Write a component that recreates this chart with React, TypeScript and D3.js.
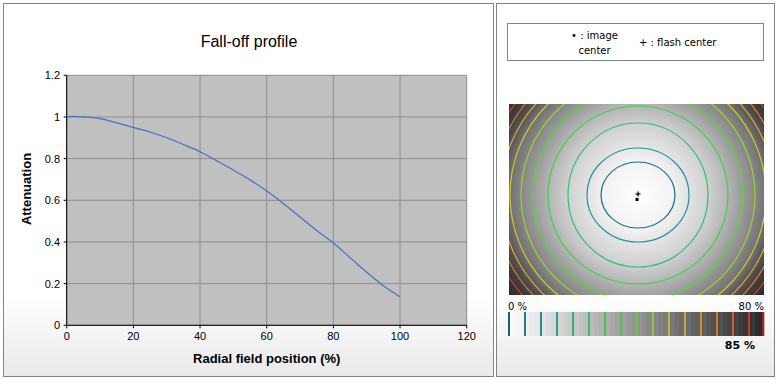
import React from "react";
import * as d3 from "d3";

// ---- data ----
const profileX = [0, 2, 5, 10, 15, 20, 25, 30, 35, 40, 45, 50, 55, 60, 65, 70, 75, 80, 85, 90, 95, 100];
const profileY = [1.0, 1.003, 1.0, 0.992, 0.972, 0.95, 0.928, 0.9, 0.868, 0.833, 0.79, 0.745, 0.698, 0.645, 0.585, 0.52, 0.455, 0.395, 0.325, 0.255, 0.19, 0.137];
const xTicks = [0, 20, 40, 60, 80, 100, 120];
const yTicks = [0, 0.2, 0.4, 0.6, 0.8, 1, 1.2];

const contourLevels = [5, 10, 17.5, 27.5, 37.5, 45, 52.5, 62.5, 70, 75];
const contourRx = [37, 51, 70, 90, 105, 117, 128, 137, 145, 153];
const contourRy = [33, 47, 72, 89, 105, 117, 128, 137, 145, 153];

const barLevels = [0, 5, 10, 15, 20, 25, 30, 35, 40, 45, 50, 55, 60, 65, 70, 75, 80];
const barColors = ["#1b5f7e", "#23788c", "#268b8e", "#2a9e8a", "#34ae7c", "#3cbc68", "#44c455", "#4ec843", "#6cc83a", "#94c63a", "#b4bc38", "#c8a638", "#d48c30", "#d87430", "#d85a2c", "#cc3a24", "#a82020"];
const mapColors = ["#1c6f8c", "#2290a0", "#2ec07c", "#3cd24c", "#5ad43a", "#9ed22c", "#d2c82a", "#e6a42a", "#e6762a", "#d83a26"];

export default function App() {
  const W = 780, H = 379;
  // left chart
  const x = d3.scaleLinear().domain([0, 120]).range([66.7, 466.7]);
  const y = d3.scaleLinear().domain([0, 1.2]).range([325.3, 75.3]);
  const line = d3.line<number>().x((_, i) => x(profileX[i])).y((d) => y(d)).curve(d3.curveMonotoneX);
  const sans = "'Liberation Sans', Arial, sans-serif";
  const tah = "'DejaVu Sans', Verdana, sans-serif";

  // right map
  const img = { x0: 509, y0: 104, x1: 764, y1: 295 };
  const cx = 638, cy = 195;
  const color = d3.scaleLinear<string>().domain(barLevels).range(barColors);
  const gray = d3.scaleLinear().domain([0, 80]).range([255, 40]);
  const g = (v: number) => { const c = Math.round(gray(v)); return `rgb(${c},${c},${c})`; };
  const Rmax = 170;
  const stops = [{ o: 0, c: g(0) }].concat(
    contourLevels.map((l, i) => ({ o: (contourRx[i] + contourRy[i]) / 2 / Rmax, c: g(l) })),
    [{ o: 1, c: g(82) }]
  );

  // colorbar
  const bx = d3.scaleLinear().domain([0, 80]).range([508, 764]);
  const nb = 48;
  const bands = d3.range(nb).map((i) => (i * 80) / nb);

  return (
    <svg width={W} height={H} style={{ position: "absolute", left: 0, top: 0 }}>
      <defs>
        <linearGradient id="panelBg" x1="0" y1="0" x2="0" y2="1">
          <stop offset="0.78" stopColor="#ffffff" />
          <stop offset="1" stopColor="#e9e9e9" />
        </linearGradient>
        <radialGradient id="flash" gradientUnits="userSpaceOnUse" cx={cx} cy={cy} r={Rmax}>
          {stops.map((s, i) => (
            <stop key={i} offset={s.o} stopColor={s.c} />
          ))}
        </radialGradient>
        <clipPath id="imgClip">
          <rect x={img.x0} y={img.y0} width={img.x1 - img.x0} height={img.y1 - img.y0} />
        </clipPath>
      </defs>
      <rect x={0} y={0} width={W} height={H} fill="#fff" />
      {/* panels */}
      <rect x={3.5} y={3.5} width={490} height={373} fill="url(#panelBg)" stroke="#7f8484" strokeWidth={1} />
      <rect x={496.5} y={3.5} width={278} height={373} fill="url(#panelBg)" stroke="#7f8484" strokeWidth={1} />

      {/* left chart */}
      <text x={249} y={47} fontFamily={sans} fontSize={16} textAnchor="middle">Fall-off profile</text>
      <rect x={x(0)} y={y(1.2)} width={x(120) - x(0)} height={y(0) - y(1.2)} fill="#c0c0c0" />
      {xTicks.map((t) => (
        <line key={"gx" + t} x1={x(t)} x2={x(t)} y1={y(0)} y2={y(1.2)} stroke="#8e8e8e" strokeWidth={1} />
      ))}
      {yTicks.map((t) => (
        <line key={"gy" + t} x1={x(0)} x2={x(120)} y1={y(t)} y2={y(t)} stroke="#8e8e8e" strokeWidth={1} />
      ))}
      <line x1={x(0)} x2={x(0)} y1={y(0)} y2={y(1.2)} stroke="#000" />
      <line x1={x(0)} x2={x(120)} y1={y(0)} y2={y(0)} stroke="#000" />
      {yTicks.map((t) => (
        <g key={"ty" + t}>
          <line x1={x(0) - 3} x2={x(0)} y1={y(t)} y2={y(t)} stroke="#000" />
          <text x={60} y={y(t) + 4} fontFamily={sans} fontSize={11} textAnchor="end">{String(t)}</text>
        </g>
      ))}
      {xTicks.map((t) => (
        <g key={"tx" + t}>
          <line x1={x(t)} x2={x(t)} y1={y(0)} y2={y(0) + 3} stroke="#000" />
          <text x={x(t)} y={340} fontFamily={sans} fontSize={11} textAnchor="middle">{String(t)}</text>
        </g>
      ))}
      <path d={line(profileY) || ""} fill="none" stroke="#4472c4" strokeWidth={1.2} />
      <text x={266.7} y={363} fontFamily={sans} fontSize={13} fontWeight="bold" textAnchor="middle">Radial field position (%)</text>
      <text transform="translate(31,189) rotate(-90)" fontFamily={sans} fontSize={13} fontWeight="bold" textAnchor="middle">Attenuation</text>

      {/* legend box */}
      <rect x={507.5} y={23.5} width={256} height={37} fill="#fff" stroke="#7f8484" />
      <text x={594.5} y={39} fontFamily={tah} fontSize={10} textAnchor="middle">• : image</text>
      <text x={594.5} y={54} fontFamily={tah} fontSize={10} textAnchor="middle">center</text>
      <text x={639} y={46} fontFamily={tah} fontSize={10}>+ : flash center</text>

      {/* map */}
      <g clipPath="url(#imgClip)">
        <rect x={img.x0} y={img.y0} width={img.x1 - img.x0} height={img.y1 - img.y0} fill="url(#flash)" />
        {contourLevels.map((l, i) => (
          <ellipse key={"c" + i} cx={cx} cy={cy} rx={contourRx[i]} ry={contourRy[i]} fill="none" stroke={mapColors[i]} strokeWidth={1.2} />
        ))}
      </g>
      <line x1={cx - 2.5} x2={cx + 2.5} y1={194} y2={194} stroke="#000" strokeWidth={1.2} />
      <line x1={cx} x2={cx} y1={191.5} y2={196.5} stroke="#000" strokeWidth={1.2} />
      <rect x={635.5} y={198} width={3} height={3} fill="#000" />

      {/* colorbar */}
      {bands.map((b, i) => (
        <rect key={"b" + i} x={bx(b)} y={312} width={bx(80 / nb) - bx(0) + 0.3} height={24} fill={g(b + 80 / nb / 2)} />
      ))}
      {barLevels.map((l) => (
        <rect key={"bl" + l} x={Math.min(bx(l), 762)} y={312} width={2} height={24} fill={color(l)} />
      ))}
      <text x={508} y={310} fontFamily={tah} fontSize={10}>0 %</text>
      <text x={764} y={310} fontFamily={tah} fontSize={10} textAnchor="end">80 %</text>
      <text x={755} y={349} fontFamily={tah} fontSize={11} fontWeight="bold" textAnchor="end">85 %</text>
    </svg>
  );
}
